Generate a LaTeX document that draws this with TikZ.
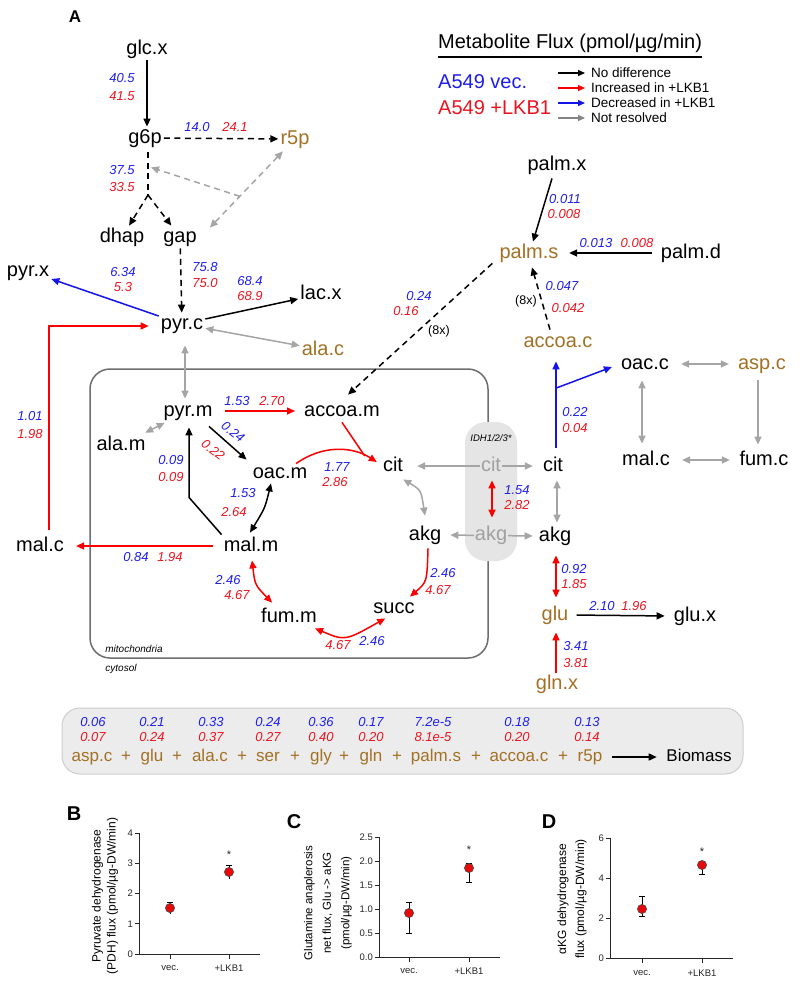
\documentclass[tikz,border=0pt]{standalone}
\usepackage{fontspec}
\setmainfont{Liberation Sans}
\usetikzlibrary{arrows.meta,calc}
\definecolor{fblue}{RGB}{30,30,235}
\definecolor{fred}{RGB}{235,20,30}
\definecolor{abrown}{RGB}{163,113,38}
\definecolor{agray}{RGB}{165,165,165}
\definecolor{ared}{RGB}{250,0,0}
\definecolor{ablue}{RGB}{20,20,235}
\definecolor{idhfill}{RGB}{229,229,229}
\definecolor{idhtext}{RGB}{160,160,160}
\definecolor{mitogray}{RGB}{110,110,110}
\definecolor{bmfill}{RGB}{236,236,236}
\definecolor{bmdraw}{RGB}{205,205,205}
\definecolor{dotred}{RGB}{230,10,10}
\begin{document}
\begin{tikzpicture}[x=1pt,y=-1pt,>={Triangle[length=8pt,width=7pt]}]
\tikzset{
  met/.style={font=\fontsize{20}{24}\selectfont, inner sep=2pt, text height=14.4pt, text depth=4pt},
  brn/.style={met, text=abrown},
  idh/.style={met, text=idhtext, fill=idhfill, inner xsep=1pt, inner ysep=0pt},
  bn/.style={font=\fontsize{13}{15}\selectfont\itshape, text=fblue, inner sep=0pt},
  rn/.style={font=\fontsize{13}{15}\selectfont\itshape, text=fred, inner sep=0pt},
  small/.style={font=\fontsize{12.5}{14}\selectfont, inner sep=0pt},
  tiny/.style={font=\fontsize{10}{12}\selectfont\itshape, inner sep=0pt},
  fl/.style={line width=1.5pt, ->},
  bfl/.style={line width=1.5pt, <->},
  dsh/.style={dash pattern=on 6pt off 4.5pt},
  legtxt/.style={font=\fontsize{13.5}{15}\selectfont, anchor=west, inner sep=0pt},
  bmn/.style={font=\fontsize{17}{20}\selectfont, text=abrown, inner sep=2pt, text height=12.3pt, text depth=3.4pt},
  bbn/.style={font=\fontsize{13}{15}\selectfont\itshape, text=fblue, inner sep=0pt},
  brd/.style={font=\fontsize{13}{15}\selectfont\itshape, text=fred, inner sep=0pt},
  panel/.style={font=\fontsize{20}{22}\selectfont\bfseries, inner sep=0pt},
  tkl/.style={font=\fontsize{9.5}{11}\selectfont, inner sep=0pt, text=black!85},
  axl/.style={rotate=90, align=center, inner sep=0pt},
  axis/.style={line width=0.9pt, draw=black!85},
  dot/.style={fill=dotred, draw=black!70, line width=0.6pt},
  ebar/.style={line width=0.9pt},
}
\fill[white] (0,0) rectangle (800,989);
\path[use as bounding box] (0,0) rectangle (800,989);

% ---------- panel letter and legend ----------
\node[panel, font=\fontsize{17}{20}\selectfont\bfseries] (pA) at (75,17) {A};
\node[font=\fontsize{20}{24}\selectfont, anchor=west, inner sep=0pt] (ltitle) at (438,43) {Metabolite Flux (pmol/µg/min)};
\draw[line width=1.3pt] ([yshift=-4.6pt]ltitle.south west) -- ([yshift=-4.6pt]ltitle.south east);
\node[font=\fontsize{20}{24}\selectfont, anchor=west, inner sep=0pt, text=fblue] (lvec) at (438,82) {A549 vec.};
\node[font=\fontsize{20}{24}\selectfont, anchor=west, inner sep=0pt, text=fred] (llkb) at (438,108) {A549 +LKB1};
\coordinate (la1) at (558,73); \coordinate (lb1) at (585,73);
\coordinate (la2) at (558,88); \coordinate (lb2) at (585,88);
\coordinate (la3) at (558,103); \coordinate (lb3) at (585,103);
\coordinate (la4) at (558,118); \coordinate (lb4) at (585,118);
\draw[line width=1.3pt, -{Triangle[length=7pt,width=6pt]}] (la1) -- (lb1);
\draw[line width=1.3pt, -{Triangle[length=7pt,width=6pt]}, ared] (la2) -- (lb2);
\draw[line width=1.3pt, -{Triangle[length=7pt,width=6pt]}, ablue] (la3) -- (lb3);
\draw[line width=1.3pt, -{Triangle[length=7pt,width=6pt]}, agray!80!black] (la4) -- (lb4);
\node[legtxt] (lt1) at (591,73) {No difference};
\node[legtxt] (lt2) at (591,88) {Increased in +LKB1};
\node[legtxt] (lt3) at (591,103) {Decreased in +LKB1};
\node[legtxt] (lt4) at (591,118) {Not resolved};

% ---------- compartments ----------
\draw[draw=mitogray, line width=1.5pt, rounded corners=20pt] (90,369) rectangle (488,658);
\fill[idhfill, rounded corners=21pt] (465,422) rectangle (517,561);
\node[tiny] (mitolab) at (134,649) {mitochondria};
\node[tiny] (cytolab) at (121,669) {cytosol};
\node[tiny, font=\fontsize{9.5}{11}\selectfont\itshape] (idhlab) at (491,438) {IDH1/2/3*};

% ---------- metabolites ----------
\node[met] (glcx) at (147,49) {glc.x};
\node[met] (g6p) at (145,138) {g6p};
\node[brn] (r5p) at (295,139) {r5p};
\node[met] (dhap) at (122,237) {dhap};
\node[met] (gap) at (180,237) {gap};
\node[met] (pyrx) at (28,271) {pyr.x};
\node[met] (pyrc) at (182,324) {pyr.c};
\node[met] (lacx) at (321,294) {lac.x};
\node[brn] (alac) at (323,350) {ala.c};
\node[met] (pyrm) at (188,411) {pyr.m};
\node[met] (accoam) at (342,411) {accoa.m};
\node[met] (alam) at (121,445) {ala.m};
\node[met] (oacm) at (280,473) {oac.m};
\node[met] (cit) at (393,466) {cit};
\node[met] (malm) at (251,546) {mal.m};
\node[met] (malc) at (40,546) {mal.c};
\node[met] (fumm) at (289,617) {fum.m};
\node[met] (succ) at (394,608) {succ};
\node[met] (akg) at (425,535) {akg};
\node[met] (citc) at (553,466) {cit};
\node[met] (akgc) at (555,536) {akg};
\node[brn] (glu) at (555,615) {glu};
\node[met] (glux) at (695,616) {glu.x};
\node[brn] (glnx) at (557,684) {gln.x};
\node[brn] (accoac) at (558,342) {accoa.c};
\node[met] (oacc) at (645,364) {oac.c};
\node[brn] (aspc) at (762,364) {asp.c};
\node[met] (malcc) at (646,460) {mal.c};
\node[met] (fumc) at (764,460) {fum.c};
\node[brn] (palms) at (529,253) {palm.s};
\node[met] (palmx) at (557,165) {palm.x};
\node[met] (palmd) at (691,253) {palm.d};

% ---------- glycolysis / PPP ----------
\draw[fl] (glcx.south) -- (glcx.south |- g6p.north);
\draw[fl, dsh] (g6p) -- (r5p);
\coordinate (split) at (148,195);
\draw[line width=1.5pt, dsh] ($(g6p.south)+(3,3)$) -- (split);
\draw[fl, dsh] (split) -- (dhap);
\draw[fl, dsh] (split) -- (gap);
\draw[bfl, dsh, agray] ($(r5p.south west)+(4.5,1)$) -- coordinate[pos=0.59] (rgmid) ($(gap.north east)+(11,2)$);
\coordinate (g6pin) at ($(g6p.south)+(6,18)$);
\draw[fl, dsh, agray] (rgmid) -- (g6pin);
\draw[fl, dsh] (gap) -- (pyrc);

% ---------- pyruvate node ----------
\draw[fl, ablue] (pyrc) -- (pyrx);
\draw[fl] (pyrc) -- (lacx);
\draw[bfl, agray] (pyrc) -- (alac);
\draw[bfl, agray] ($(pyrc.south)+(3,10)$) -- ($(pyrm.north)+(-3,-1)$);
\draw[fl, ared] ($(malc.north)+(9,-5)$) |- ($(pyrc.west)+(-10,2)$);

% ---------- mitochondria ----------
\draw[fl, ared, shorten <=10pt, shorten >=7pt] (pyrm.east) -- (accoam.west);
\draw[bfl, agray, shorten <=2pt, shorten >=1pt] (alam) -- (pyrm);
\draw[fl] ($(pyrm.south)+(21,4)$) -- ($(oacm.north west)+(-4,-2)$);
\draw[fl] (malm.north west) -- ($(pyrm.south)+(1,75)$) -- ($(pyrm.south)+(1,5)$);
\draw[bfl] ($(malm.north)+(-1,-2)$) .. controls (265,508) .. ($(oacm.south)+(-9,-1)$);
\draw[fl, ared, shorten <=9pt, shorten >=10pt] (malm.west) -- (malc.east);
\draw[line width=1.5pt, ared] (accoam.south) -- ($(cit.west)+(-16,-10)$);
\draw[fl, ared] ($(oacm.north)+(16,2)$) .. controls (322,445) and (352,446) .. ($(cit.west)+(-4,-4)$);
\draw[bfl, ared] ($(malm.south)+(1,3)$) .. controls (255,585) .. ($(fumm.north west)+(13,-3)$);
\draw[bfl, ared] ($(fumm.south east)+(-4,0)$) .. controls (345,641) .. ($(succ.south west)+(14,-1)$);
\draw[fl, ared] ($(akg.south)+(3,2)$) .. controls (427,582) .. ($(succ.north)+(16,0)$);
\draw[bfl, agray] ($(cit.south east)+(-2,2)$) .. controls (421,490) .. ($(akg.north)+(0,-8)$);

% ---------- IDH shuttle ----------
\draw[bfl, agray, shorten <=12pt, shorten >=8pt] (cit.east) -- (citc.west);
\draw[bfl, agray, shorten <=7pt, shorten >=4pt] (akg.east) -- (akgc.west);
\node[idh] (citg) at (491,466) {cit};
\node[idh] (akgg) at (491,535) {akg};
\draw[bfl, ared] ($(citg.south)+(1,5)$) -- ($(akgg.north)+(1,-8)$);
\draw[bfl, agray] ($(citc.south)+(4,3)$) -- ($(akgc.north)+(2,-2)$);
\draw[bfl, ared] ($(akgc.south)+(1,8)$) -- ($(glu.north)+(1,-6)$);
\draw[fl, shorten <=6pt, shorten >=7pt] (glu.east) -- (glux.west);
\draw[fl, ared] ($(glnx.north)+(-1,0)$) -- ($(glu.south)+(1,6)$);

% ---------- cytosolic citrate ----------
\draw[fl, ablue] ($(citc.north)+(3,-7)$) -- coordinate[pos=0.69] (br) ($(accoac.south)+(-2,8)$);
\draw[fl, ablue] (br) -- ($(oacc.west)+(-7,3)$);
\draw[fl, dsh] ($(accoac.north)+(-8,-1)$) -- ($(palms.south)+(3,3)$);
\draw[fl] ($(palmx.south)+(-5,2)$) -- ($(palms.north)+(4,0)$);
\draw[fl, shorten <=7pt, shorten >=8.5pt] (palmd.west) -- (palms.east);
\draw[fl, dsh] ($(palms.south west)+(-5,-1)$) -- ($(accoam.north)+(6,-5)$);
\draw[bfl, agray, shorten <=10pt, shorten >=7pt] (oacc.east) -- (aspc.west);
\draw[bfl, agray] ($(oacc.south)+(-3,5)$) -- ($(malcc.north)+(-4,-5)$);
\draw[fl, agray] ($(aspc.south)+(-4,5)$) -- ($(fumc.north)+(-6,-4)$);
\draw[bfl, agray, shorten <=10pt, shorten >=7.5pt] (malcc.east) -- (fumc.west);

% ---------- flux values ----------
\node[bn] (n01) at (122,78) {40.5}; \node[rn] (n02) at (122,96) {41.5};
\node[bn] (n03) at (197,127) {14.0}; \node[rn] (n04) at (235,127) {24.1};
\node[bn] (n05) at (122,170) {37.5}; \node[rn] (n06) at (122,187) {33.5};
\node[bn] (n07) at (205,267) {75.8}; \node[rn] (n08) at (205,283) {75.0};
\node[bn] (n09) at (123,272) {6.34}; \node[rn] (n10) at (123,287) {5.3};
\node[bn] (n11) at (250,281) {68.4}; \node[rn] (n12) at (250,296) {68.9};
\node[bn] (n13) at (30,416) {1.01}; \node[rn] (n14) at (30,434) {1.98};
\node[bn] (n15) at (237,401) {1.53}; \node[rn] (n16) at (272,401) {2.70};
\node[bn, rotate=-38] (n17) at (233,432) {0.24}; \node[rn, rotate=-38] (n18) at (213,450) {0.22};
\node[bn] (n19) at (171,460) {0.09}; \node[rn] (n20) at (171,477) {0.09};
\node[bn] (n21) at (337,467) {1.77}; \node[rn] (n22) at (335,482) {2.86};
\node[bn] (n23) at (243,493) {1.53}; \node[rn] (n24) at (234,512) {2.64};
\node[bn] (n25) at (136,557) {0.84}; \node[rn] (n26) at (170,557) {1.94};
\node[bn] (n27) at (228,580) {2.46}; \node[rn] (n28) at (237,595) {4.67};
\node[rn] (n29) at (338,645) {4.67}; \node[bn] (n30) at (372,641) {2.46};
\node[bn] (n31) at (443,573) {2.46}; \node[rn] (n32) at (438,590) {4.67};
\node[bn] (n33) at (517,490) {1.54}; \node[rn] (n34) at (517,505) {2.82};
\node[bn] (n35) at (574,569) {0.92}; \node[rn] (n36) at (574,584) {1.85};
\node[bn] (n37) at (602,606) {2.10}; \node[rn] (n38) at (634,606) {1.96};
\node[bn] (n39) at (576,646) {3.41}; \node[rn] (n40) at (576,663) {3.81};
\node[bn] (n41) at (575,412) {0.22}; \node[rn] (n42) at (575,428) {0.04};
\node[bn] (n43) at (562,286) {0.047}; \node[rn] (n44) at (568,308) {0.042};
\node[small] (n45) at (526,301) {(8x)};
\node[bn] (n46) at (565,199) {0.011}; \node[rn] (n47) at (564,214) {0.008};
\node[bn] (n48) at (596,243) {0.013}; \node[rn] (n49) at (637,243) {0.008};
\node[bn] (n50) at (419,296) {0.24}; \node[rn] (n51) at (406,311) {0.16};
\node[small] (n52) at (439,331) {(8x)};

% ---------- biomass ----------
\draw[fill=bmfill, draw=bmdraw, line width=1pt, rounded corners=18pt] (62,708) rectangle (743,774);
\foreach \x/\b/\r [count=\i] in {93/0.06/0.07, 152/0.21/0.24, 211/0.33/0.37, 268/0.24/0.27, 321/0.36/0.40, 371/0.17/0.20, 433/7.2e-5/8.1e-5, 517/0.18/0.20, 587/0.13/0.14}{
  \node[bbn] (bb\i) at (\x,722) {\b};
  \node[brd] (br\i) at (\x,737) {\r};
}
\foreach \x/\t [count=\i] in {92/asp.c, 152/glu, 210/ala.c, 268/ser, 321/gly, 371/gln, 436/palm.s, 519/accoa.c, 590/r5p}{
  \node[bmn] (bm\i) at (\x,757) {\t};
}
\foreach \x [count=\i] in {126,177,242,295,344,397,476,563}{
  \node[bmn] (bp\i) at (\x,757) {+};
}
\node[bmn, text=black] (biomass) at (699,757) {Biomass};
\draw[fl, shorten <=8pt, shorten >=7.5pt] (bm9.east) -- (biomass.west);

% ---------- panel B ----------
\node[panel] (pB) at (74,814) {B};
\draw[axis] (139,833) -- (139,954) -- (260,954);
\foreach \v in {0,...,4}{
  \draw[axis] (139,{954-30.25*\v}) -- ++(-4,0);
  \node[tkl, anchor=east] (bt\v) at (133,{954-30.25*\v}) {\v};
}
\draw[axis] (170,954) -- ++(0,5); \draw[axis] (229,954) -- ++(0,5);
\node[tkl] (bx1) at (170,968) {vec.};
\node[tkl] (bx2) at (229,968) {+LKB1};
\draw[ebar] (170,902) -- (170,914); \draw[ebar] (167,902) -- (173,902);
\filldraw[dot] (170,908) circle (4.6pt);
\draw[ebar] (229,865) -- (229,879); \draw[ebar] (226,865) -- (232,865);
\filldraw[dot] (229,872) circle (4.6pt);
\node[tkl, font=\fontsize{11}{12}\selectfont] (bs) at (229,855) {*};
\node[axl, font=\fontsize{12}{15}\selectfont] (ylB) at (105,896) {Pyruvate dehydrogenase\\(PDH) flux (pmol/µg-DW/min)};

% ---------- panel C ----------
\node[panel] (pC) at (294,822) {C};
\draw[axis] (379,837) -- (379,957) -- (500,957);
\foreach \v/\l in {0/0.0,1/0.5,2/1.0,3/1.5,4/2.0,5/2.5}{
  \draw[axis] (379,{957-24*\v}) -- ++(-4,0);
  \node[tkl, anchor=east] (ct\v) at (373,{957-24*\v}) {\l};
}
\draw[axis] (409,957) -- ++(0,5); \draw[axis] (469,957) -- ++(0,5);
\node[tkl] (cx1) at (409,971) {vec.};
\node[tkl] (cx2) at (469,971) {+LKB1};
\draw[ebar] (409,902) -- (409,933); \draw[ebar] (406,902) -- (412,902); \draw[ebar] (406,933) -- (412,933);
\filldraw[dot] (409,913) circle (4.6pt);
\draw[ebar] (469,863) -- (469,882); \draw[ebar] (466,863) -- (472,863); \draw[ebar] (466,882) -- (472,882);
\filldraw[dot] (469,868) circle (4.6pt);
\node[tkl, font=\fontsize{11}{12}\selectfont] (cs) at (469,850) {*};
\node[axl, font=\fontsize{11.5}{18.5}\selectfont] (ylC) at (328,903) {Glutamine anaplerosis\\net flux, Glu -> aKG\\(pmol/µg-DW/min)};

% ---------- panel D ----------
\node[panel] (pD) at (549,822) {D};
\draw[axis] (610,838) -- (610,958) -- (733,958);
\foreach \v in {0,2,4,6}{
  \draw[axis] (610,{958-20*\v}) -- ++(-4,0);
  \node[tkl, anchor=east] (dt\v) at (604,{958-20*\v}) {\v};
}
\draw[axis] (642,958) -- ++(0,5); \draw[axis] (702,958) -- ++(0,5);
\node[tkl] (dx1) at (642,973) {vec.};
\node[tkl] (dx2) at (702,973) {+LKB1};
\draw[ebar] (642,896) -- (642,916); \draw[ebar] (639,896) -- (645,896); \draw[ebar] (639,916) -- (645,916);
\filldraw[dot] (642,909) circle (4.6pt);
\draw[ebar] (702,861) -- (702,874); \draw[ebar] (699,861) -- (705,861); \draw[ebar] (699,874) -- (705,874);
\filldraw[dot] (702,865) circle (4.6pt);
\node[tkl, font=\fontsize{11}{12}\selectfont] (ds) at (702,852) {*};
\node[axl, font=\fontsize{12}{18}\selectfont] (ylD) at (572,899) {αKG dehydrogenase\\flux (pmol/µg-DW/min)};
\end{tikzpicture}
\end{document}
